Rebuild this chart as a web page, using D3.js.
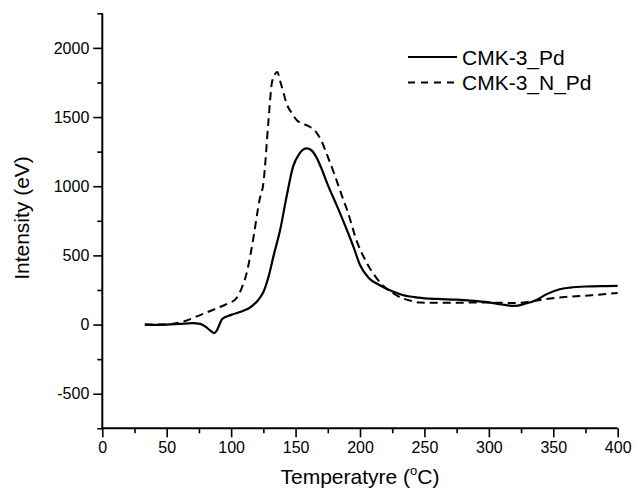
<!DOCTYPE html>
<html><head><meta charset="utf-8">
<script src="https://cdn.jsdelivr.net/npm/d3@7"></script>
<style>body{margin:0;background:#fff}svg{display:block}text{font-family:Arial,"Liberation Sans",sans-serif;fill:#000}</style>
</head><body><svg id="c" width="635" height="497"></svg>
<script>
const xTicks=[0,50,100,150,200,250,300,350,400];
const yTicks=[-500,0,500,1000,1500,2000];
const seriesNames=["CMK-3_Pd","CMK-3_N_Pd"];
const tempPd=[33,40,50,60,70,76,80,84,87,89,91,93,100,108,115,122,125,129,133,138,143,148,153,158.6,162,166,170,175,182,190,195,200,207,215,225,233,245,260,275,286,300,310,320,328,337,345,355,363,375,390,400];
const intPd=[0,-3,0,5,10,5,-15,-45,-62,-40,0,40,70,94,125,190,235,346,500,683,924,1140,1236,1273,1262,1212,1130,1010,860,680,560,430,335,286,240,214,195,185,180,173,160,145,135,150,178,220,255,267,275,278,279];
const tempNPd=[33,45,55,63,75,89,97,104,108,112,117,122,125,129,131.5,133.5,135.8,138,140.5,143,147,151,156,161,166,170,174,180,186,190,198,205,212,218,225,233,240,247,260,275,286,300,316,325,332,345,363,380,400];
const intNPd=[0,0,5,22,65,118,150,190,260,371,611,900,1020,1477,1741,1800,1825,1760,1680,1597,1530,1477,1450,1430,1390,1330,1237,1090,930,828,590,450,346,280,230,190,170,159,157,157,159,159,156,158,166,185,202,212,228];

const svg=d3.select("#c");
const L=102.3,R=617.7,T=13.3,B=428.3;
const x=d3.scaleLinear().domain([0,400]).range([L,R]);
const y=d3.scaleLinear().domain([-750,2250]).range([B,T]);
const fmt=v=>String(v);

const gx=svg.append("g").attr("transform",`translate(0,${B})`);
gx.call(d3.axisBottom(x).tickValues(d3.range(25,400,50)).tickSize(5).tickFormat(""));
const gx2=svg.append("g").attr("transform",`translate(0,${B})`);
gx2.call(d3.axisBottom(x).tickValues(xTicks).tickSize(9).tickPadding(4).tickFormat(fmt));
const gy=svg.append("g").attr("transform",`translate(${L},0)`);
gy.call(d3.axisLeft(y).tickValues(d3.range(-750,2251,250).filter(v=>v%500!==0)).tickSize(5).tickFormat(""));
const gy2=svg.append("g").attr("transform",`translate(${L},0)`);
gy2.call(d3.axisLeft(y).tickValues(yTicks).tickSize(9).tickPadding(4).tickFormat(fmt));
svg.selectAll(".domain").attr("stroke","#000").attr("stroke-width",2);
svg.selectAll(".tick line").attr("stroke","#000").attr("stroke-width",1.6);
svg.selectAll(".tick text").attr("font-size",16).attr("font-family","Arial, 'Liberation Sans', sans-serif");
gy.select(".domain").remove(); gx.select(".domain").remove();
gy2.select(".domain").attr("d",`M0,${B}V${T}`);
gx2.select(".domain").attr("d",`M${L},0H${R}`);

const line=d3.line().x(d=>x(d[0])).y(d=>y(d[1])).curve(d3.curveMonotoneX);
const dPd=tempPd.map((t,i)=>[t,intPd[i]]);
const dNPd=tempNPd.map((t,i)=>[t,intNPd[i]]);
svg.append("path").attr("d",line(dPd)).attr("fill","none").attr("stroke","#000").attr("stroke-width",2.2);
svg.append("path").attr("d",line(dNPd)).attr("fill","none").attr("stroke","#000").attr("stroke-width",2).attr("stroke-dasharray","8,5");

const lg=svg.append("g");
[0,1].forEach(i=>{
  const yy=57+i*25.5;
  lg.append("line").attr("x1",408).attr("x2",457).attr("y1",yy).attr("y2",yy).attr("stroke","#000").attr("stroke-width",2)
    .attr("stroke-dasharray",i===1?"7,6":null);
  lg.append("text").attr("x",462).attr("y",yy+7.5).attr("font-size",21).text(seriesNames[i]);
});

const xt=svg.append("text").attr("x",(L+R)/2).attr("y",484).attr("text-anchor","middle").attr("font-size",21);
xt.append("tspan").text("Temperatyre (");
xt.append("tspan").attr("font-size",13).attr("dy",-9).text("o");
xt.append("tspan").attr("dy",9).text("C)");
svg.append("text").attr("transform","translate(29,218) rotate(-90)").attr("text-anchor","middle").attr("font-size",21).text("Intensity (eV)");
</script></body></html>
